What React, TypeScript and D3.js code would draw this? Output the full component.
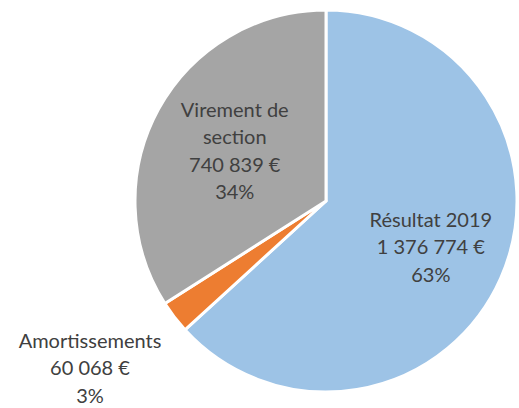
import React from "react";
import * as d3 from "d3";

const categories = ["Résultat 2019", "Amortissements", "Virement de section"];
const values = [1376774, 60068, 740839];
const valueLabels = ["1 376 774 €", "60 068 €", "740 839 €"];
const percentLabels = ["63%", "3%", "34%"];
const nameLines = [["Résultat 2019"], ["Amortissements"], ["Virement de", "section"]];
const colors = ["#9DC3E6", "#ED7D31", "#A5A5A5"];
const outside = [false, true, false];

const W = 519;
const H = 408;
const cx = 326;
const cy = 201;
const R = 191;

export default function App() {
  const pie = d3.pie<number>().sort(null).value((d) => d);
  const arcs = pie(values);
  const arcGen = d3.arc<d3.PieArcDatum<number>>().innerRadius(0).outerRadius(R);
  const lineH = 27.5;
  const labelRadius = [0.6, 1.51, 0.545];
  return (
    <div style={{ position: "absolute", left: 0, top: 0 }}>
      <svg width={W} height={H} style={{ display: "block" }}>
        <rect width={W} height={H} fill="#ffffff" />
        <g transform={`translate(${cx},${cy})`}>
          {arcs.map((a, i) => (
            <path key={i} d={arcGen(a) || ""} fill={colors[i]} stroke="#ffffff" strokeWidth={3} strokeLinejoin="round" />
          ))}
          {arcs.map((a, i) => {
            const rr = R * labelRadius[i];
            const c = d3.arc<d3.PieArcDatum<number>>().innerRadius(rr).outerRadius(rr).centroid(a);
            const ox = outside[i] ? -7 : 0;
            const oy = outside[i] ? -8 : 0;
            const lines = [...nameLines[i], valueLabels[i], percentLabels[i]];
            const n = lines.length;
            return (
              <text key={"t" + i} textAnchor="middle" fontFamily="Lato, 'Open Sans', sans-serif" fontSize={20} fill="#404040">
                {lines.map((l, j) => (
                  <tspan key={j} x={c[0] + ox} y={c[1] + oy + (j - (n - 1) / 2) * lineH + 7}>{l}</tspan>
                ))}
              </text>
            );
          })}
        </g>
      </svg>
    </div>
  );
}
